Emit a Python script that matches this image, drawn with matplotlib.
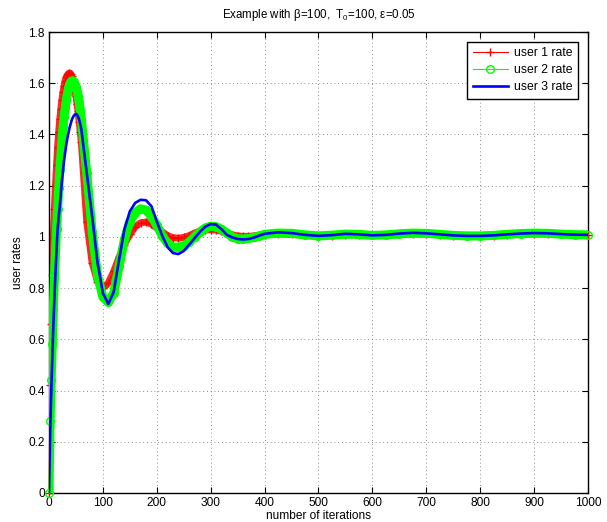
import numpy as np
import matplotlib
matplotlib.use("Agg")
import matplotlib.pyplot as plt
from matplotlib.lines import Line2D

plt.rcParams['font.family'] = ['Liberation Sans', 'DejaVu Sans']

iterations = (list(range(0, 61, 2)) + list(range(70, 401, 10))
              + list(range(425, 1001, 25)))

user1 = [0.0, 0.42, 0.66, 0.85, 1.0, 1.11, 1.20, 1.28, 1.35, 1.41, 1.46,
         1.50, 1.535, 1.565, 1.59, 1.61, 1.623, 1.632, 1.638, 1.64, 1.638,
         1.63, 1.615, 1.595, 1.57, 1.55, 1.52, 1.49, 1.45, 1.41, 1.37,
         1.06, 0.90, 0.825, 0.80, 0.82, 0.865, 0.92, 0.97, 1.01, 1.04, 1.055,
         1.058, 1.05, 1.035, 1.02, 1.005, 0.997, 0.995, 0.998, 1.005, 1.015,
         1.022, 1.027, 1.028, 1.027, 1.022, 1.015, 1.008, 1.004, 1.002, 1.002,
         1.004, 1.007, 1.009,
         1.011, 1.01, 1.007, 1.004, 1.005, 1.008, 1.008, 1.006, 1.007, 1.01,
         1.012, 1.011, 1.008, 1.005, 1.004, 1.004, 1.005, 1.008, 1.01, 1.012,
         1.012, 1.01, 1.008, 1.007]

user2 = [0.0, 0.28, 0.44, 0.58, 0.72, 0.84, 0.94, 1.03, 1.11, 1.19, 1.26,
         1.32, 1.38, 1.43, 1.47, 1.505, 1.535, 1.56, 1.58, 1.595, 1.604,
         1.609, 1.61, 1.605, 1.595, 1.585, 1.57, 1.55, 1.525, 1.495, 1.46,
         1.25, 1.02, 0.85, 0.765, 0.745, 0.78, 0.885, 0.99, 1.06, 1.095, 1.11,
         1.105, 1.08, 1.045, 1.005, 0.975, 0.96, 0.96, 0.965, 0.98, 1.0,
         1.02, 1.035, 1.042, 1.04, 1.03, 1.015, 1.0, 0.993, 0.992, 0.994,
         0.998, 1.004, 1.01,
         1.015, 1.014, 1.008, 1.004, 1.007, 1.011, 1.01, 1.006, 1.008, 1.012,
         1.015, 1.014, 1.01, 1.006, 1.004, 1.004, 1.006, 1.01, 1.013, 1.015,
         1.014, 1.011, 1.009, 1.008]

user3 = [0.0, 0.22, 0.38, 0.52, 0.65, 0.76, 0.86, 0.95, 1.03, 1.08, 1.12,
         1.17, 1.22, 1.26, 1.30, 1.33, 1.36, 1.385, 1.405, 1.425, 1.44,
         1.455, 1.465, 1.473, 1.478, 1.48, 1.478, 1.47, 1.457, 1.44, 1.42,
         1.25, 1.08, 0.90, 0.78, 0.738, 0.785, 0.91, 1.03, 1.10, 1.133, 1.145,
         1.143, 1.12, 1.06, 1.005, 0.96, 0.937, 0.933, 0.945, 0.97, 0.995,
         1.02, 1.04, 1.05, 1.048, 1.03, 1.008, 0.998, 0.992, 0.99, 0.992,
         0.997, 1.005, 1.012,
         1.018, 1.015, 1.008, 1.004, 1.007, 1.012, 1.01, 1.006, 1.008, 1.013,
         1.016, 1.014, 1.01, 1.006, 1.004, 1.004, 1.006, 1.01, 1.013, 1.015,
         1.014, 1.011, 1.009, 1.008]

series_labels = ['user 1 rate', 'user 2 rate', 'user 3 rate']
title = 'Example with \u03b2=100,  T$_\\mathregular{0}$=100, \u03b5=0.05'
xlabel = 'number of iterations'
ylabel = 'user rates'
xticks = list(range(0, 1001, 100))
yticks = [0, 0.2, 0.4, 0.6, 0.8, 1.0, 1.2, 1.4, 1.6, 1.8]
yticklabels = ['0', '0.2', '0.4', '0.6', '0.8', '1', '1.2', '1.4', '1.6', '1.8']

fig = plt.figure(figsize=(6.07, 5.22), dpi=100)
ax = fig.add_axes([0.0807, 0.0556, 0.888, 0.883])

x = np.array(iterations)
red = (1, 0, 0)
green = (0, 1, 0)
blue = (0, 0, 1)

# band underlays
ax.plot(x, user1, color=red, lw=5.0, alpha=0.85, solid_capstyle='round', zorder=2)
ax.plot(x, user1, color=red, lw=0.8, marker='+', ms=6, mew=1.0, zorder=3, clip_on=False)
ax.plot(x, user2, color=green, lw=6.5, solid_capstyle='round', zorder=4)
ax.plot(x, user2, color=green, lw=0.8, marker='o', ms=5.5, mfc='none', mew=1.0, zorder=5, clip_on=False)
ax.plot(x, user3, color=blue, lw=1.9, zorder=6)

ax.set_xlim(0, 1000)
ax.set_ylim(0, 1.8)
ax.set_xticks(xticks)
ax.set_xticklabels([str(t) for t in xticks])
ax.set_yticks(yticks)
ax.set_yticklabels(yticklabels)
ax.tick_params(direction='in', top=True, right=True, length=4, width=0.8,
               labelsize=8.6, pad=3)
ax.grid(True, linestyle=(0, (1, 3.5)), color='0.4', lw=0.6)
for s in ax.spines.values():
    s.set_linewidth(1.0)
    s.set_color('black')

ax.set_title(title, fontsize=8.3, pad=10)
ax.set_xlabel(xlabel, fontsize=8.6, labelpad=0.5)
ax.set_ylabel(ylabel, fontsize=8.6, labelpad=3)

handles = [Line2D([], [], color=red, lw=0.8, marker='+', ms=6, mew=1.0),
           Line2D([], [], color=green, lw=0.8, marker='o', ms=5.5, mfc='none', mew=1.0),
           Line2D([], [], color=blue, lw=1.9)]
leg = ax.legend(handles, series_labels, loc='upper right', fontsize=8.8,
                fancybox=False, framealpha=1, edgecolor='black',
                borderaxespad=0.8, handlelength=2.9, borderpad=0.45,
                labelspacing=0.4, handletextpad=0.5)
leg.get_frame().set_linewidth(1.0)

fig.savefig('out.png', dpi=100)
